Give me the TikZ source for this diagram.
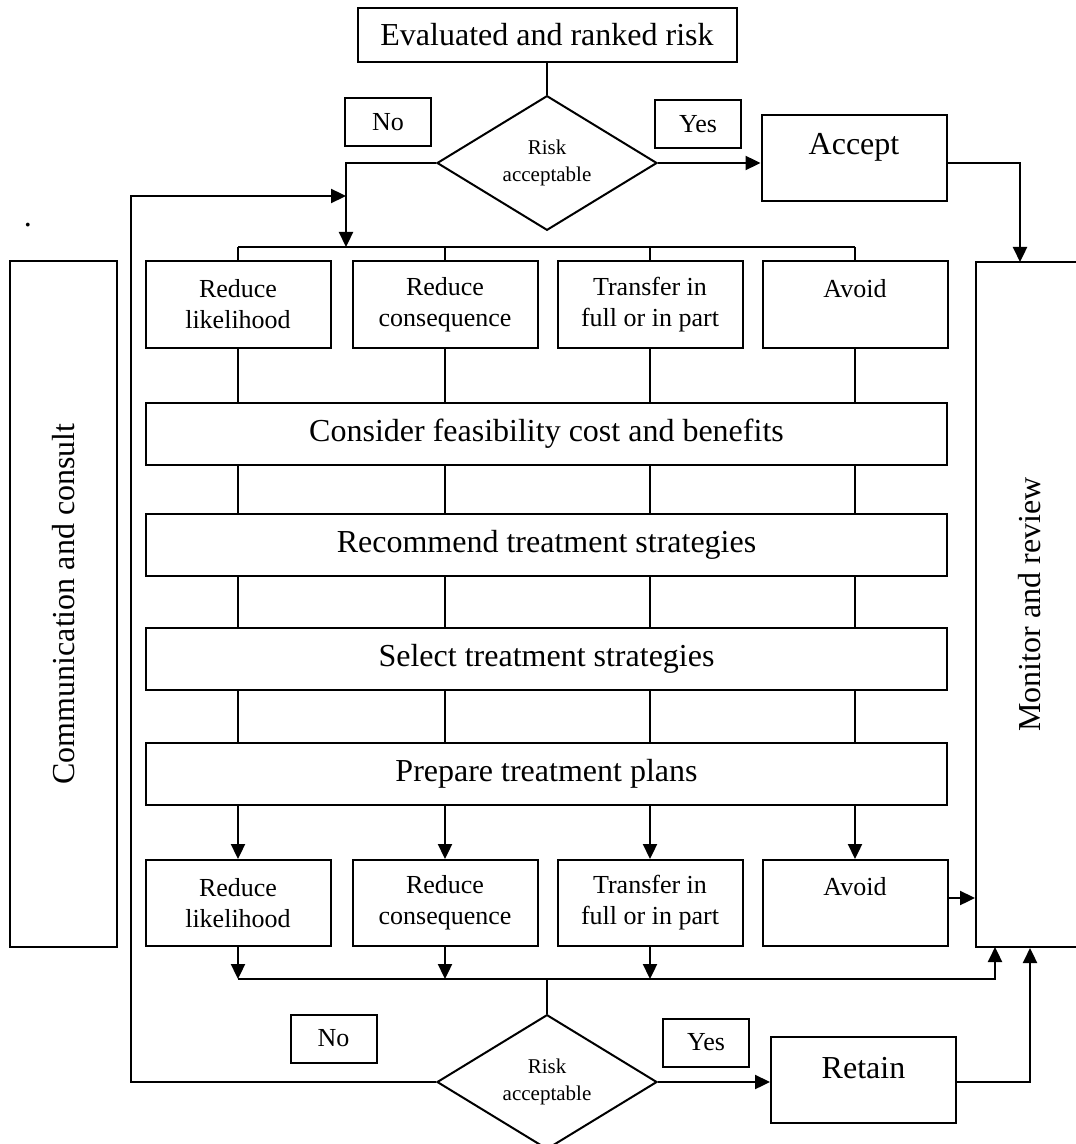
\documentclass[tikz,border=0pt]{standalone}
\usepackage{fontspec}
\setmainfont{Liberation Serif}
\usetikzlibrary{arrows.meta,shapes.geometric,calc}

\begin{document}
\begin{tikzpicture}[x=0.5pt,y=-0.5pt,
  box/.style={draw,line width=1pt,inner sep=0pt,align=center},
  bigtxt/.style={font=\fontsize{16}{19}\selectfont},
  smalltxt/.style={font=\fontsize{13}{15.5}\selectfont},
  plainbox/.style={box,minimum width=92.5pt,minimum height=43pt},
  option/.style={plainbox,smalltxt},
  widebox/.style={box,bigtxt,minimum width=400.5pt,minimum height=31pt},
  tagbox/.style={box,font=\fontsize{13}{15}\selectfont,minimum width=43pt,minimum height=24pt},
  decision/.style={draw,line width=1pt,diamond,minimum width=110pt,minimum height=62pt,
                   inner sep=0pt,align=center,font=\fontsize{10.5}{13.5}\selectfont},
  thinline/.style={line width=0.65pt},
  flow/.style={line width=1.15pt,-{Triangle[length=7.5pt,width=7pt]}},
  boldline/.style={line width=1.15pt},
]
\useasboundingbox (0,0) rectangle (1075,1144);

% ---- entry and first decision
\node[box,bigtxt,minimum width=189.5pt,minimum height=27pt] (top) at (547,35) {Evaluated and ranked risk};
\node[decision] (dia1) at (547,163) {Risk\\acceptable};
\node[tagbox] (noT) at (388,122) {No};
\node[tagbox] (yesT) at (698,124) {Yes};
\node[plainbox] (acc) at (854,158.5) {};
\node[bigtxt,inner sep=0pt] (accT) at (854,147) {Accept};

% ---- side bars
\node[box,minimum width=53.5pt,minimum height=343pt] (comm) at (63.5,604) {};
\node[bigtxt,rotate=90,inner sep=0pt] (commT) at (63.5,604) {Communication and consult};
\node[box,minimum width=54pt,minimum height=342.5pt] (mon) at (1030,604.5) {};
\node[bigtxt,rotate=90,inner sep=0pt] (monT) at (1030,604.5) {Monitor and review};
\node[font=\fontsize{16}{16}\selectfont,inner sep=0pt,anchor=base] (mark) at (28,227) {.};

% ---- treatment options
\node[option] (r1a) at (238,304.5) {Reduce\\likelihood};
\node[option] (r1b) at (445,304.5) {Reduce\\consequence};
\node[option] (r1c) at (650,304.5) {Transfer in\\full or in part};
\node[plainbox] (r1d) at (855,304.5) {};
\node[smalltxt,inner sep=0pt] (r1dT) at (855,289) {Avoid};

% ---- treatment steps
\node[widebox] (cons) at (546.5,434) {Consider feasibility cost and benefits};
\node[widebox] (rec) at (546.5,545) {Recommend treatment strategies};
\node[widebox] (sel) at (546.5,658.5) {Select treatment strategies};
\node[widebox] (prep) at (546.5,774) {Prepare treatment plans};

% ---- treated options
\node[option] (r2a) at (238,903) {Reduce\\likelihood};
\node[option] (r2b) at (445,903) {Reduce\\consequence};
\node[option] (r2c) at (650,903) {Transfer in\\full or in part};
\node[plainbox] (r2d) at (855,903) {};
\node[smalltxt,inner sep=0pt] (r2dT) at (855,887) {Avoid};

% ---- second decision
\node[decision] (dia2) at (547,1082) {Risk\\acceptable};
\node[tagbox] (noB) at (333.5,1038.5) {No};
\node[tagbox] (yesB) at (706,1042.5) {Yes};
\node[plainbox] (ret) at (863.5,1080) {};
\node[bigtxt,inner sep=0pt] (retT) at (863.5,1068) {Retain};

% ---- routing points
\coordinate (busL) at (238,247);
\coordinate (busR) at (855,247);
\coordinate (noDrop) at (346,247);
\coordinate (fbL) at (131,196);
\coordinate (fbR) at (346,196);
\coordinate (accIn) at (1020,262);
\coordinate (colL) at (238,979);
\coordinate (colBend) at (995,979);
\coordinate (colUp) at (995,947);

% ---- connectors
\draw[thinline] (top) -- (dia1);
\draw[flow] (dia1.east) -- (dia1.east -| acc.west);
\draw[boldline,-{Triangle[length=7.5pt,width=7pt]}] (dia1.east -| acc.east) -| (accIn);
\draw[flow] (dia1.west) -| (noDrop);
\draw[flow] (dia2.west) -| (fbL) -- (fbR);
\draw[thinline] (busL) -- (busR);
\foreach \b in {r1a,r1b,r1c,r1d}{
  \draw[thinline] (\b.north |- busL) -- (\b.north);
  \draw[thinline] (\b.south) -- (\b.south |- cons.north);
  \draw[thinline] (\b.south |- cons.south) -- (\b.south |- rec.north);
  \draw[thinline] (\b.south |- rec.south) -- (\b.south |- sel.north);
  \draw[thinline] (\b.south |- sel.south) -- (\b.south |- prep.north);
}
\foreach \b in {r2a,r2b,r2c,r2d}{
  \draw[flow] (\b.north |- prep.south) -- (\b.north);
}
\foreach \b in {r2a,r2b,r2c}{
  \draw[flow] (\b.south) -- (\b.south |- colL);
}
\draw[flow] (colL) -- (colBend) -- (colUp);
\draw[flow] ($(r2d.east)+(0,-5)$) -- ($(r2d.east -| mon.west)+(0,-5)$);
\draw[thinline] (dia2.north |- colL) -- (dia2.north);
\draw[flow] (dia2.east) -- (dia2.east -| ret.west);
\draw[flow] (dia2.east -| ret.east) -| (mon.south);
\end{tikzpicture}
\end{document}
